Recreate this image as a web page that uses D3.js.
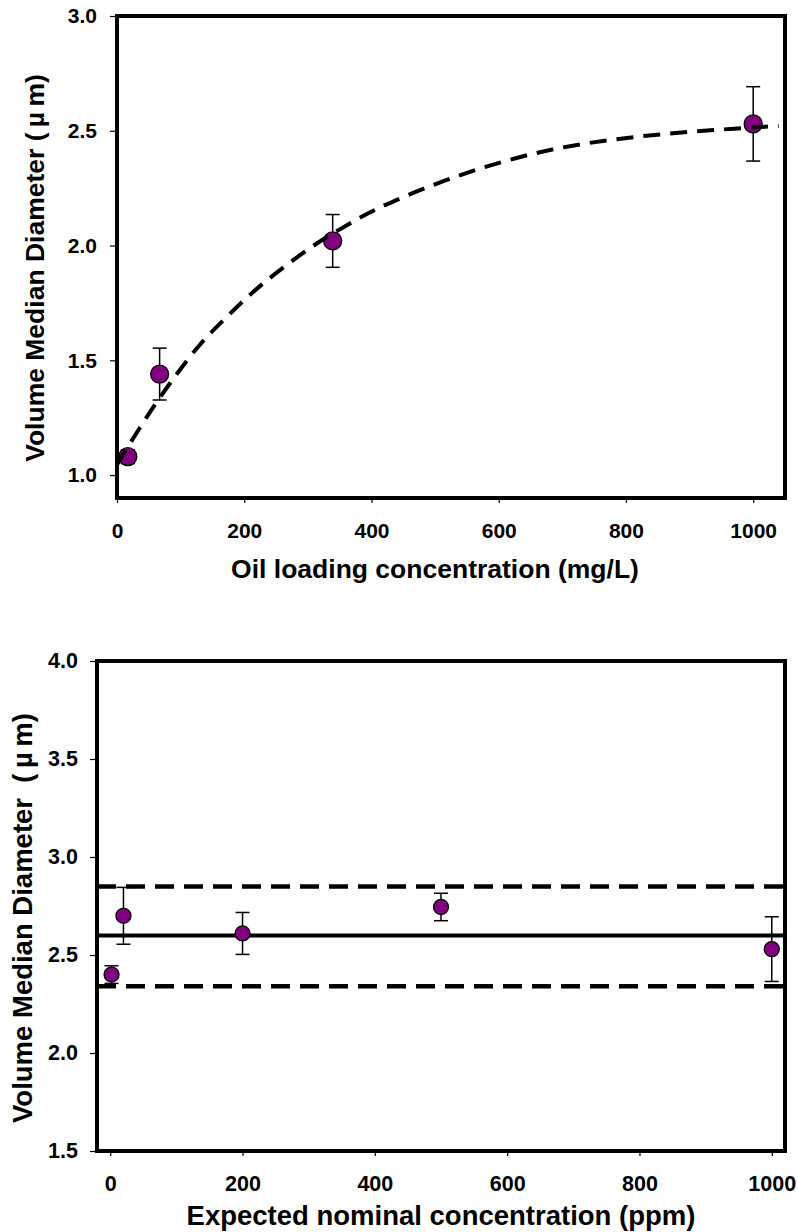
<!DOCTYPE html>
<html>
<head>
<meta charset="utf-8">
<script src="https://cdnjs.cloudflare.com/ajax/libs/d3/7.8.5/d3.min.js"></script>
<style>
body {margin: 0; background: #fff;}
svg text {font-family: "Liberation Sans", Arial, sans-serif; font-weight: bold; fill: #000; white-space: pre;}
</style>
</head>
<body>
<svg id="chart" width="798" height="1232"></svg>
<script>
// top panel: VMD vs oil loading
const oilConc = [17, 67, 339, 1000];
const oilVmd = [1.08, 1.44, 2.02, 2.53];
const oilErr = [0.03, 0.113, 0.115, 0.162];
// dashed fit curve
const fitX = [0, 30, 63, 94, 131, 173, 215, 262, 304, 356, 398, 445, 508, 556, 598, 640, 684, 729, 773, 818, 865, 912, 954, 996, 1040];
const fitY = [1.045, 1.18, 1.32, 1.44, 1.57, 1.69, 1.80, 1.905, 1.99, 2.08, 2.145, 2.205, 2.275, 2.322, 2.358, 2.39, 2.418, 2.441, 2.459, 2.474, 2.487, 2.498, 2.506, 2.514, 2.521];
const topXTicks = [0, 200, 400, 600, 800, 1000];
const topYTicks = [1.0, 1.5, 2.0, 2.5, 3.0];

// bottom panel: VMD vs nominal concentration
const nomConc = [2, 20, 200, 500, 1000];
const nomVmd = [2.40, 2.70, 2.61, 2.745, 2.53];
const nomErr = [0.045, 0.145, 0.107, 0.07, 0.165];
const meanVmd = 2.6;
const bandVmd = [2.34, 2.85];
const botXTicks = [0, 200, 400, 600, 800, 1000];
const botYTicks = [1.5, 2.0, 2.5, 3.0, 3.5, 4.0];

const svg = d3.select("#chart");
const fmt = d3.format(".1f");

function drawPanel(opt) {
  const g = svg.append("g");
  const x = d3.scaleLinear().domain(opt.xDomain).range([opt.left, opt.right]);
  const y = d3.scaleLinear().domain(opt.yDomain).range([opt.bottom, opt.top]);

  const xAxis = g.append("g")
    .attr("transform", "translate(0," + opt.bottom + ")")
    .call(d3.axisBottom(x).tickValues(opt.xTicks).tickSize(5).tickPadding(opt.xPad).tickFormat(d3.format("d")));
  const yAxis = g.append("g")
    .attr("transform", "translate(" + opt.left + ",0)")
    .call(d3.axisLeft(y).tickValues(opt.yTicks).tickSize(7).tickPadding(opt.yPad).tickFormat(fmt));
  [xAxis, yAxis].forEach(a => {
    a.select(".domain").remove();
    a.selectAll(".tick line").attr("stroke", "#000").attr("stroke-width", 1.2);
    a.selectAll(".tick text").style("font-size", opt.tickFont + "px");
  });

  g.append("text")
    .attr("x", opt.xTitleX)
    .attr("y", opt.xTitleY)
    .attr("text-anchor", "middle")
    .style("font-size", opt.xTitleFont + "px")
    .text(opt.xTitle);
  g.append("text")
    .attr("transform", "translate(" + opt.yTitleX + "," + opt.yTitleY + ") rotate(-90)")
    .attr("text-anchor", "middle")
    .style("font-size", opt.yTitleFont + "px")
    .text(opt.yTitle);

  return {g: g, x: x, y: y};
}

function drawPoints(p, xs, ys, errs, r) {
  const pts = xs.map((d, i) => ({x: d, y: ys[i], e: errs[i]}));
  const eb = p.g.append("g").attr("stroke", "#000").attr("stroke-width", 1.5);
  pts.forEach(d => {
    const cx = p.x(d.x);
    eb.append("line").attr("x1", cx).attr("x2", cx).attr("y1", p.y(d.y - d.e)).attr("y2", p.y(d.y + d.e));
    eb.append("line").attr("x1", cx - 7).attr("x2", cx + 7).attr("y1", p.y(d.y - d.e)).attr("y2", p.y(d.y - d.e));
    eb.append("line").attr("x1", cx - 7).attr("x2", cx + 7).attr("y1", p.y(d.y + d.e)).attr("y2", p.y(d.y + d.e));
  });
  p.g.append("g").selectAll("circle")
    .data(pts)
    .enter()
    .append("circle")
      .attr("cx", d => p.x(d.x))
      .attr("cy", d => p.y(d.y))
      .attr("r", r)
      .attr("fill", "#800080")
      .attr("stroke", "#000")
      .attr("stroke-width", 1.3);
}

function drawFrame(p, opt) {
  p.g.append("rect")
    .attr("x", opt.left).attr("y", opt.top)
    .attr("width", opt.right - opt.left).attr("height", opt.bottom - opt.top)
    .attr("fill", "none").attr("stroke", "#000").attr("stroke-width", 4);
}

// ---- top panel
const topOpt = {
  left: 117, right: 785, top: 16, bottom: 498,
  xDomain: [0, 1050], yDomain: [0.9, 3.0],
  xTicks: topXTicks, yTicks: topYTicks,
  xPad: 20, yPad: 13, tickFont: 21, xTitleFont: 26.5, yTitleFont: 26.5,
  xTitle: "Oil loading concentration (mg/L)", xTitleX: 435, xTitleY: 578,
  yTitle: "Volume Median Diameter (\u2009\u00b5\u2009m)", yTitleX: 44, yTitleY: 268
};
const topP = drawPanel(topOpt);
drawPoints(topP, oilConc, oilVmd, oilErr, 9);
topP.g.append("path")
  .datum(fitX.map((d, i) => [d, fitY[i]]))
  .attr("d", d3.line().x(d => topP.x(d[0])).y(d => topP.y(d[1])).curve(d3.curveMonotoneX))
  .attr("fill", "none")
  .attr("stroke", "#000")
  .attr("stroke-width", 4)
  .attr("stroke-dasharray", "17,10");
drawFrame(topP, topOpt);

// ---- bottom panel
const botOpt = {
  left: 97, right: 785, top: 661, bottom: 1151,
  xDomain: [-20, 1020], yDomain: [1.5, 4.0],
  xTicks: botXTicks, yTicks: botYTicks,
  xPad: 20, yPad: 12, tickFont: 21.5, xTitleFont: 27.5, yTitleFont: 27.5,
  xTitle: "Expected nominal concentration (ppm)", xTitleX: 441, xTitleY: 1225,
  yTitle: "Volume Median Diameter  (\u2009\u00b5\u2009m)", yTitleX: 32, yTitleY: 918
};
const botP = drawPanel(botOpt);
botP.g.append("line")
  .attr("x1", botOpt.left).attr("x2", botOpt.right)
  .attr("y1", botP.y(meanVmd)).attr("y2", botP.y(meanVmd))
  .attr("stroke", "#000").attr("stroke-width", 4);
botP.g.selectAll("line.band")
  .data(bandVmd)
  .enter()
  .append("line")
    .attr("class", "band")
    .attr("x1", botOpt.left).attr("x2", botOpt.right)
    .attr("y1", d => botP.y(d)).attr("y2", d => botP.y(d))
    .attr("stroke", "#000").attr("stroke-width", 4.5)
    .attr("stroke-dasharray", "19,10");
drawPoints(botP, nomConc, nomVmd, nomErr, 7.5);
drawFrame(botP, botOpt);
</script>
</body>
</html>
